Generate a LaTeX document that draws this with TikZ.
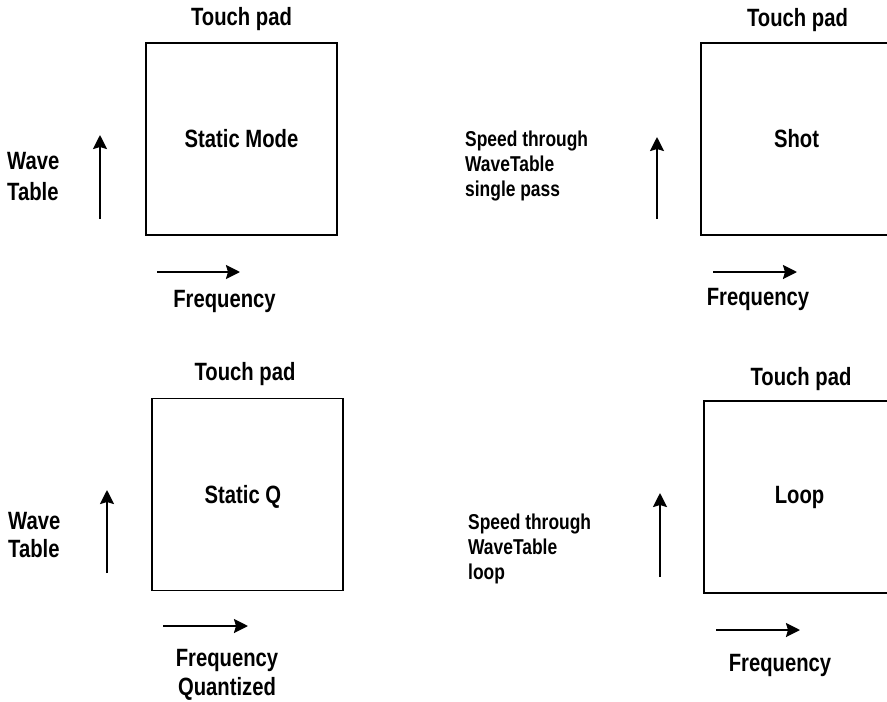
\documentclass[tikz,border=0pt]{standalone}
\usepackage{fontspec}
\setmainfont{Liberation Sans}[FakeStretch=0.81]
\usepackage{tikz}
\usetikzlibrary{arrows.meta}

\begin{document}
\begin{tikzpicture}[x=1pt,y=-1pt,
    pad/.style={draw,line width=1.7pt,minimum width=191pt,minimum height=192pt,inner sep=0pt,
      font=\fontsize{25}{30}\selectfont\bfseries},
    lbl/.style={inner sep=0pt,font=\fontsize{25}{30}\selectfont\bfseries},
    side/.style={inner sep=0pt,align=left,font=\fontsize{21.5}{25}\selectfont\bfseries},
    axis/.style={line width=2.2pt,-{Stealth[length=14pt,width=14pt,inset=2pt]}}]
  % page frame, the right pads run off it
  \clip[use as bounding box] (0,0) rectangle (887,702);

  % top left: static mode
  \node[pad] (sm) at (241.5,139) {Static Mode};
  \node[lbl,anchor=base] (smt) at (241.5,25.5) {Touch pad};
  \node[lbl,anchor=west,align=left,font=\fontsize{25}{31}\selectfont\bfseries] (smw) at (7,177) {Wave\\Table};
  \node[lbl,anchor=base] (smf) at (224.5,307) {Frequency};
  \coordinate (smu0) at (100,219);  \coordinate (smu1) at (100,135);
  \coordinate (smr0) at (157,272);  \coordinate (smr1) at (240,272);
  \draw[axis] (smu0) -- (smu1);
  \draw[axis] (smr0) -- (smr1);

  % top right: shot
  \node[pad] (sh) at (796.5,139) {Shot};
  \node[lbl,anchor=base] (sht) at (797.5,26) {Touch pad};
  \node[side,anchor=west] (shs) at (465,166) {Speed through\\WaveTable\\single pass};
  \node[lbl,anchor=base] (shf) at (758,305) {Frequency};
  \coordinate (shu0) at (657,219);  \coordinate (shu1) at (657,137);
  \coordinate (shr0) at (713,272);  \coordinate (shr1) at (797,272);
  \draw[axis] (shu0) -- (shu1);
  \draw[axis] (shr0) -- (shr1);

  % bottom left: static quantized
  \node[pad] (sq) at (247.5,494.5) {};
  \node[lbl] (sqn) at (243,497) {Static Q};
  \node[lbl,anchor=base] (sqt) at (245,380) {Touch pad};
  \node[lbl,anchor=west,align=left,font=\fontsize{25}{28.5}\selectfont\bfseries] (sqw) at (8,535) {Wave\\Table};
  \node[lbl,align=center,font=\fontsize{25}{28.5}\selectfont\bfseries] (sqf) at (227,675) {Frequency\\Quantized};
  \coordinate (squ0) at (107,573);  \coordinate (squ1) at (107,490);
  \coordinate (sqr0) at (163,626);  \coordinate (sqr1) at (248,626);
  \draw[axis] (squ0) -- (squ1);
  \draw[axis] (sqr0) -- (sqr1);

  % bottom right: loop
  \node[pad] (lp) at (799.5,497) {Loop};
  \node[lbl,anchor=base] (lpt) at (801,385) {Touch pad};
  \node[side,anchor=west] (lps) at (468,549) {Speed through\\WaveTable\\loop};
  \node[lbl,anchor=base] (lpf) at (780,671) {Frequency};
  \coordinate (lpu0) at (660,577);  \coordinate (lpu1) at (660,493);
  \coordinate (lpr0) at (716,630);  \coordinate (lpr1) at (800,630);
  \draw[axis] (lpu0) -- (lpu1);
  \draw[axis] (lpr0) -- (lpr1);
\end{tikzpicture}
\end{document}
